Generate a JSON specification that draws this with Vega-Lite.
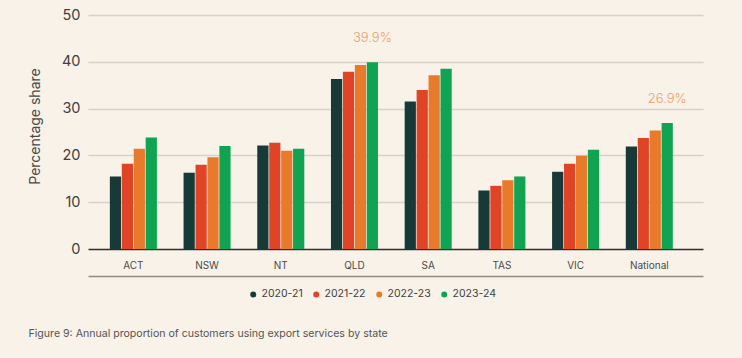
{
  "$schema": "https://vega.github.io/schema/vega-lite/v6.json",
  "autosize": {"type": "none"},
  "padding": {"left": 88, "top": 15, "right": 39, "bottom": 109},
  "width": 615,
  "height": 234,
  "background": "#F9F2E8",
  "config": {
    "view": {"stroke": null},
    "font": "Inter",
    "text": {"font": "Inter"}
  },
  "title": {
    "text": "Figure 9: Annual proportion of customers using export services by state",
    "orient": "bottom",
    "anchor": "start",
    "frame": "bounds",
    "font": "Inter",
    "fontSize": 10.6,
    "fontWeight": "normal",
    "color": "#555555",
    "offset": 29
  },
  "data": {
    "values": [
      {"state": "ACT", "year": "2020-21", "value": 15.5},
      {"state": "ACT", "year": "2021-22", "value": 18.2},
      {"state": "ACT", "year": "2022-23", "value": 21.4},
      {"state": "ACT", "year": "2023-24", "value": 23.8},
      {"state": "NSW", "year": "2020-21", "value": 16.3},
      {"state": "NSW", "year": "2021-22", "value": 18.0},
      {"state": "NSW", "year": "2022-23", "value": 19.6},
      {"state": "NSW", "year": "2023-24", "value": 22.0},
      {"state": "NT", "year": "2020-21", "value": 22.1},
      {"state": "NT", "year": "2021-22", "value": 22.7},
      {"state": "NT", "year": "2022-23", "value": 21.0},
      {"state": "NT", "year": "2023-24", "value": 21.4},
      {"state": "QLD", "year": "2020-21", "value": 36.3},
      {"state": "QLD", "year": "2021-22", "value": 37.9},
      {"state": "QLD", "year": "2022-23", "value": 39.3},
      {"state": "QLD", "year": "2023-24", "value": 39.9, "label": "39.9%"},
      {"state": "SA", "year": "2020-21", "value": 31.5},
      {"state": "SA", "year": "2021-22", "value": 34.0},
      {"state": "SA", "year": "2022-23", "value": 37.1},
      {"state": "SA", "year": "2023-24", "value": 38.5},
      {"state": "TAS", "year": "2020-21", "value": 12.5},
      {"state": "TAS", "year": "2021-22", "value": 13.5},
      {"state": "TAS", "year": "2022-23", "value": 14.7},
      {"state": "TAS", "year": "2023-24", "value": 15.5},
      {"state": "VIC", "year": "2020-21", "value": 16.5},
      {"state": "VIC", "year": "2021-22", "value": 18.2},
      {"state": "VIC", "year": "2022-23", "value": 19.9},
      {"state": "VIC", "year": "2023-24", "value": 21.2},
      {"state": "National", "year": "2020-21", "value": 21.9},
      {"state": "National", "year": "2021-22", "value": 23.7},
      {"state": "National", "year": "2022-23", "value": 25.3},
      {"state": "National", "year": "2023-24", "value": 26.9, "label": "26.9%"}
    ]
  },
  "encoding": {
    "x": {
      "field": "state",
      "type": "nominal",
      "sort": ["ACT", "NSW", "NT", "QLD", "SA", "TAS", "VIC", "National"],
      "scale": {"paddingInner": 0.362, "paddingOuter": 0.353, "align": 0.42},
      "axis": {
        "title": null,
        "labelAngle": 0,
        "offset": 27,
        "ticks": false,
        "tickSize": 0,
        "labelPadding": -11,
        "labelBaseline": "middle",
        "labelFont": "Inter",
        "labelFontSize": 10,
        "labelColor": "#4a4a4a",
        "domainColor": "#8f8c88",
        "domainWidth": 1.5,
        "grid": false
      }
    },
    "xOffset": {
      "field": "year",
      "type": "nominal",
      "scale": {"paddingInner": 0.06}
    },
    "y": {
      "field": "value",
      "type": "quantitative",
      "scale": {"domain": [0, 50], "nice": false},
      "axis": {
        "title": "Percentage share",
        "values": [0, 10, 20, 30, 40, 50],
        "domain": false,
        "ticks": false,
        "labelPadding": 8,
        "labelFont": "Inter",
        "labelFontSize": 14.5,
        "labelColor": "#404040",
        "titleFont": "Inter",
        "titleFontSize": 14,
        "titleFontWeight": "normal",
        "titleColor": "#4a4a4a",
        "titlePadding": 19,
        "titleY": 111,
        "grid": true,
        "gridColor": {"condition": {"test": "datum.value === 0", "value": "#2e2e2e"}, "value": "#d6d1ca"},
        "gridWidth": 1.5
      }
    }
  },
  "layer": [
    {
      "mark": {"type": "bar"},
      "encoding": {
        "color": {
          "field": "year",
          "type": "nominal",
          "scale": {
            "domain": ["2020-21", "2021-22", "2022-23", "2023-24"],
            "range": ["#173A38", "#E04426", "#E87B2B", "#10A351"]
          },
          "legend": {
            "title": null,
            "orient": "none",
            "direction": "horizontal",
            "legendX": 160,
            "legendY": 274,
            "symbolType": "circle",
            "symbolSize": 36,
            "symbolOpacity": 1,
            "labelFont": "Inter",
            "labelFontSize": 10.5,
            "labelColor": "#404040",
            "labelOffset": 3,
            "columnPadding": 8
          }
        }
      }
    },
    {
      "transform": [{"filter": "datum.label != null"}],
      "mark": {"type": "text", "dy": -24, "fontSize": 13, "fontWeight": 300, "font": "Inter", "color": "#EBA06A"},
      "encoding": {
        "text": {"field": "label"}
      }
    }
  ]
}
